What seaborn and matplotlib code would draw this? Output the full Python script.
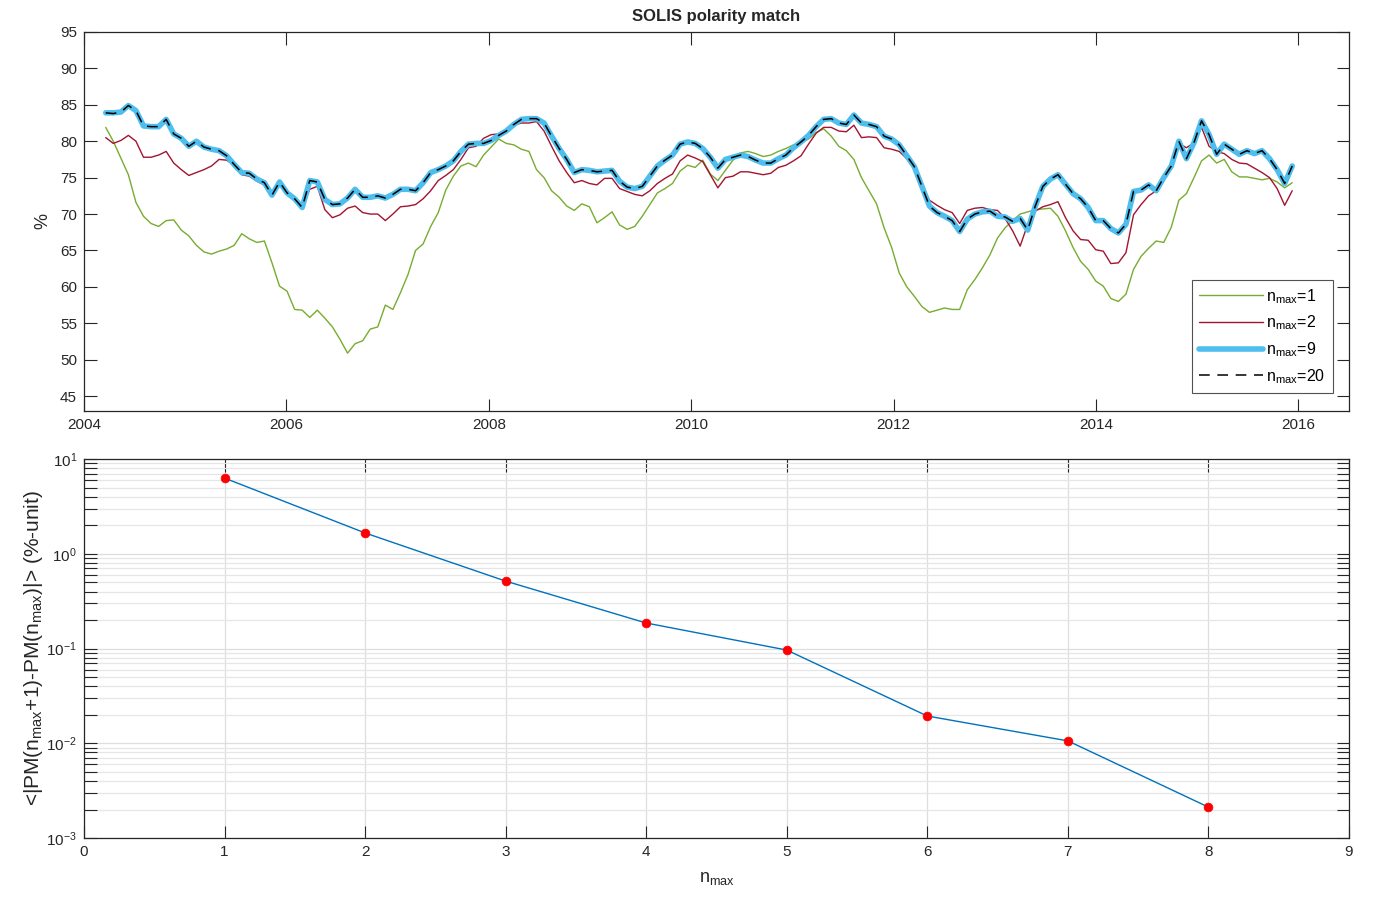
import numpy as np
import pandas as pd
import seaborn as sns
import matplotlib.pyplot as plt
from matplotlib.ticker import LogLocator, NullFormatter

# SOLIS polarity match per Carrington rotation (2014 .. 2171), in %
rotations = np.arange(2014, 2172)

pm_n1 = [81.9, 80.0, 77.7, 75.4, 71.6, 69.7, 68.7, 68.3, 69.1, 69.2, 67.8, 67.0, 65.7, 64.8, 64.5, 64.9, 65.2, 65.7, 67.3, 66.6, 66.1, 66.3, 63.3,
         60.1, 59.4, 56.9, 56.8, 55.8, 56.8, 55.7, 54.5, 52.8, 50.9, 52.2, 52.6, 54.2, 54.5, 57.5, 56.9, 59.2, 61.7, 65.0, 65.9, 68.3, 70.2, 73.3,
         75.2, 76.6, 77.0, 76.5, 78.1, 79.2, 80.3, 79.7, 79.5, 78.9, 78.6, 76.1, 75.0, 73.2, 72.3, 71.1, 70.5, 71.4, 71.0, 68.8, 69.5, 70.3, 68.5,
         67.9, 68.3, 69.7, 71.3, 72.9, 73.5, 74.2, 75.9, 76.7, 76.4, 77.4, 75.5, 74.6, 76.0, 77.4, 78.4, 78.6, 78.3, 77.9, 78.1, 78.6, 79.0, 79.5,
         79.8, 80.3, 81.2, 81.7, 80.7, 79.3, 78.7, 77.5, 75.0, 73.2, 71.4, 68.1, 65.4, 61.9, 60.0, 58.7, 57.3, 56.5, 56.8, 57.1, 56.9, 56.9, 59.6,
         61.0, 62.6, 64.4, 66.7, 68.1, 69.1, 70.0, 70.3, 70.6, 70.7, 70.8, 69.7, 67.7, 65.4, 63.5, 62.4, 60.8, 60.1, 58.4, 58.0, 59.0, 62.4, 64.2,
         65.3, 66.3, 66.1, 68.2, 71.9, 72.8, 75.0, 77.3, 78.1, 77.0, 77.5, 75.8, 75.1, 75.1, 74.9, 74.7, 74.9, 74.4, 73.6, 74.3]

pm_n2 = [80.5, 79.7, 80.1, 80.8, 80.0, 77.8, 77.8, 78.1, 78.6, 77.0, 76.1, 75.3, 75.7, 76.1, 76.6, 77.5, 77.4, 76.7, 75.4, 75.2, 74.5, 74.0, 72.7,
         74.3, 72.9, 72.1, 70.9, 73.4, 73.8, 70.6, 69.5, 69.9, 70.8, 71.1, 70.2, 70.0, 70.0, 69.1, 70.0, 71.0, 71.1, 71.3, 72.1, 73.2, 74.6, 75.3,
         76.1, 77.5, 79.1, 79.3, 80.4, 80.9, 81.0, 81.5, 82.2, 82.5, 82.5, 82.7, 81.4, 79.3, 77.3, 75.7, 74.3, 74.6, 74.2, 74.0, 74.9, 74.9, 73.5,
         73.1, 72.7, 72.5, 73.2, 74.2, 74.9, 75.5, 77.3, 78.1, 77.7, 77.2, 75.4, 73.6, 75.0, 75.2, 75.8, 75.8, 75.6, 75.4, 75.6, 76.4, 76.7, 77.3,
         78.0, 79.6, 81.1, 81.9, 81.9, 81.4, 81.3, 82.2, 80.5, 80.6, 80.5, 79.1, 78.9, 78.6, 77.6, 76.1, 74.1, 71.9, 71.2, 70.6, 70.2, 68.7, 70.5,
         70.8, 70.9, 70.6, 70.5, 69.4, 67.7, 65.6, 68.6, 70.4, 71.0, 71.3, 71.7, 69.5, 67.7, 66.5, 66.4, 65.1, 64.9, 63.2, 63.3, 64.7, 69.9, 71.3,
         72.5, 73.2, 74.8, 76.6, 79.7, 79.1, 79.8, 81.9, 79.3, 78.6, 78.3, 77.5, 77.0, 76.9, 76.3, 75.7, 75.0, 73.5, 71.2, 73.2]

pm_n9 = [83.9, 83.9, 84.0, 84.9, 84.2, 82.1, 82.0, 82.0, 83.0, 81.0, 80.4, 79.3, 80.0, 79.2, 78.9, 78.7, 78.0, 76.8, 75.7, 75.6, 74.8, 74.3, 72.6,
         74.4, 72.9, 72.1, 70.9, 74.6, 74.4, 72.0, 71.3, 71.4, 72.2, 73.4, 72.3, 72.3, 72.5, 72.2, 72.7, 73.4, 73.4, 73.2, 74.3, 75.7, 76.1, 76.6,
         77.3, 78.6, 79.6, 79.7, 79.7, 80.1, 80.8, 81.4, 82.3, 83.0, 83.1, 83.1, 82.5, 80.7, 79.0, 77.5, 75.7, 76.1, 76.0, 75.8, 75.9, 76.0, 74.5,
         73.7, 73.5, 73.8, 75.2, 76.6, 77.4, 78.1, 79.6, 79.9, 79.7, 79.0, 77.8, 76.3, 77.5, 77.8, 78.1, 77.9, 77.4, 77.0, 77.0, 77.6, 78.1, 79.1,
         79.9, 80.8, 82.0, 83.0, 83.1, 82.5, 82.3, 83.6, 82.5, 82.3, 82.0, 80.7, 80.3, 79.5, 78.0, 76.5, 73.8, 71.1, 70.2, 69.7, 69.1, 67.6, 69.3,
         70.0, 70.3, 70.4, 69.7, 69.6, 69.0, 69.4, 67.8, 71.1, 73.8, 74.8, 75.4, 74.1, 72.8, 72.1, 70.9, 69.1, 69.1, 68.0, 67.4, 68.6, 73.1, 73.3,
         74.0, 73.2, 75.0, 76.6, 80.0, 77.6, 79.8, 82.8, 80.9, 78.2, 79.6, 78.9, 78.2, 78.7, 78.3, 78.7, 77.6, 76.1, 74.2, 76.6]

pm_n20 = [83.9, 83.8, 84.0, 84.9, 84.2, 82.1, 82.0, 82.0, 83.0, 81.0, 80.4, 79.3, 80.0, 79.2, 78.9, 78.7, 78.0, 76.8, 75.7, 75.6, 74.8, 74.3, 72.6,
          74.4, 72.9, 72.1, 70.9, 74.6, 74.4, 72.0, 71.3, 71.4, 72.2, 73.4, 72.3, 72.3, 72.5, 72.2, 72.7, 73.4, 73.4, 73.2, 74.3, 75.7, 76.1, 76.6,
          77.3, 78.6, 79.6, 79.7, 79.7, 80.1, 80.8, 81.4, 82.3, 83.0, 83.1, 83.1, 82.5, 80.7, 79.0, 77.5, 75.7, 76.1, 76.0, 75.8, 75.9, 76.0, 74.5,
          73.7, 73.5, 73.8, 75.2, 76.6, 77.4, 78.1, 79.6, 79.9, 79.7, 79.0, 77.8, 76.3, 77.5, 77.8, 78.1, 77.9, 77.4, 77.0, 77.0, 77.6, 78.1, 79.1,
          79.9, 80.8, 82.0, 83.0, 83.1, 82.5, 82.3, 83.6, 82.5, 82.3, 82.0, 80.7, 80.3, 79.5, 78.0, 76.5, 73.8, 71.1, 70.2, 69.7, 69.1, 67.6, 69.3,
          70.0, 70.3, 70.4, 69.7, 69.6, 69.0, 69.4, 67.8, 71.1, 73.8, 74.8, 75.4, 74.1, 72.8, 72.1, 70.9, 69.1, 69.1, 68.0, 67.4, 68.6, 73.1, 73.3,
          74.0, 73.2, 75.0, 76.6, 80.0, 77.6, 79.8, 82.8, 80.9, 78.2, 79.6, 78.9, 78.2, 78.7, 78.3, 78.7, 77.6, 76.1, 74.2, 76.6]

# mean change of the match when one more order is added
nmax = [1, 2, 3, 4, 5, 6, 7, 8]
pm_diff = [6.3, 1.66, 0.515, 0.186, 0.0964, 0.0194, 0.0106, 0.00212]

# rotation number -> decimal year
years = 2004.215 + (rotations - 2014) * 27.2753 / 365.25

sns.set_theme(style="white")
plt.rcParams['font.family'] = ['Liberation Sans', 'DejaVu Sans']
plt.rcParams['mathtext.default'] = 'regular'
plt.rcParams['axes.edgecolor'] = '#262626'
plt.rcParams['xtick.color'] = '#262626'
plt.rcParams['ytick.color'] = '#262626'
plt.rcParams['axes.linewidth'] = 0.9
# MATLAB-like ticks: inside, on all four sides
plt.rcParams['xtick.bottom'] = True
plt.rcParams['xtick.top'] = True
plt.rcParams['ytick.left'] = True
plt.rcParams['ytick.right'] = True
plt.rcParams['xtick.direction'] = 'in'
plt.rcParams['ytick.direction'] = 'in'

fig = plt.figure(figsize=(13.74, 9.01), dpi=100)
ax1 = fig.add_axes([0.0611, 0.5442, 0.9207, 0.4203])
ax2 = fig.add_axes([0.0611, 0.0699, 0.9207, 0.4206])

series = [
    (pm_n1, 'n$_{max}$=1', '#77AC30', 1.0, '-'),
    (pm_n2, 'n$_{max}$=2', '#A2142F', 1.0, '-'),
    (pm_n9, 'n$_{max}$=9', '#4DBEEE', 4.0, '-'),
    (pm_n20, 'n$_{max}$=20', 'black', 1.1, '--'),
]
for vals, lab, col, lw, ls in series:
    sns.lineplot(x=years, y=vals, ax=ax1, color=col, linewidth=lw,
                 linestyle=ls, label=lab, estimator=None, sort=False)
ax1.lines[-1].set_dashes((7, 5))

ax1.set_xlim(2004, 2016.5)
ax1.set_ylim(43, 95)
ax1.set_xticks(range(2004, 2017, 2))
ax1.set_yticks(range(45, 96, 5))
ax1.set_ylabel('%', fontsize=13, color='#262626', labelpad=6)
ax1.set_title('SOLIS polarity match', fontsize=12, fontweight='bold', pad=8)
leg = ax1.legend(loc='lower right', bbox_to_anchor=(0.9935, 0.026), fontsize=11.5,
                 handlelength=4.0, frameon=True, fancybox=False,
                 edgecolor='#262626', borderpad=0.45, labelspacing=0.5,
                 handletextpad=0.2)
leg.get_frame().set_linewidth(0.8)
for t in leg.get_texts():
    t.set_color('black')

# bottom panel
sns.lineplot(x=nmax, y=pm_diff, ax=ax2, color='#0072BD', linewidth=1.0,
             estimator=None)
sns.scatterplot(x=nmax, y=pm_diff, ax=ax2, color='red', s=40,
                edgecolor='red', linewidth=0.5, zorder=3)
ax2.set_yscale('log')
ax2.set_xlim(0, 9)
ax2.set_ylim(1e-3, 1e1)
ax2.set_xticks(range(0, 10))
ax2.yaxis.set_major_locator(LogLocator(base=10, numticks=10))
ax2.yaxis.set_minor_locator(LogLocator(base=10, subs=np.arange(2, 10), numticks=50))
ax2.yaxis.set_minor_formatter(NullFormatter())
ax2.grid(True, which='major', axis='both', color='#dedede', linewidth=0.9)
ax2.grid(True, which='minor', axis='y', color='#e6e6e6', linewidth=0.9)
ax2.set_axisbelow(True)
ax2.set_xlabel('n$_{max}$', fontsize=13, color='#262626', labelpad=8)
ax2.set_ylabel('<|PM(n$_{max}$+1)-PM(n$_{max}$)|> (%-unit)', fontsize=15,
               color='#262626', labelpad=1)

for ax in (ax1, ax2):
    ax.tick_params(which='both', direction='in', top=True, right=True,
                   left=True, bottom=True,
                   length=9, width=0.8, labelsize=11, pad=5)
    for sp in ax.spines.values():
        sp.set_visible(True)

fig.savefig('out.png', dpi=100)
